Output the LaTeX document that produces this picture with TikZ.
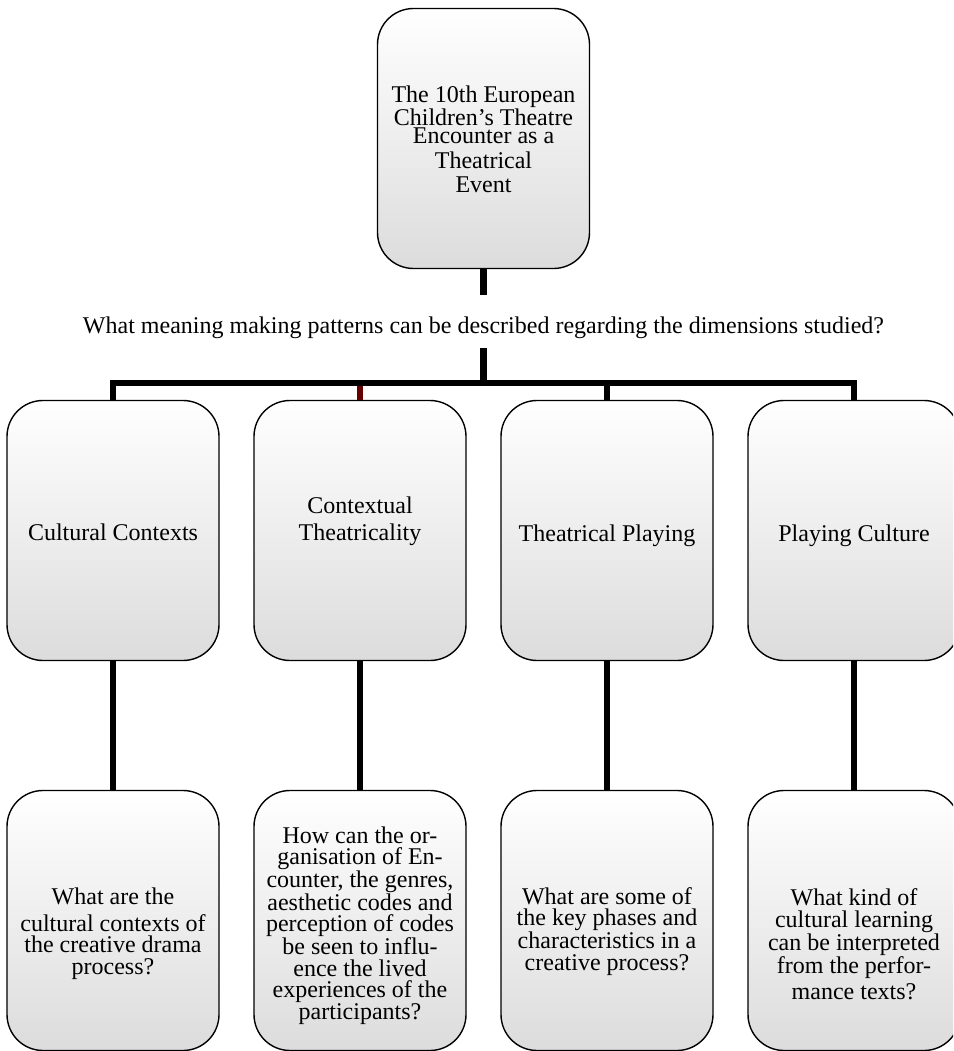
\documentclass[tikz,border=0pt]{standalone}
\usepackage{fontspec}
\setmainfont{Liberation Serif}
\usetikzlibrary{calc}
\definecolor{cardgray}{RGB}{220,220,220}
\definecolor{stubred}{RGB}{100,0,0}
\begin{document}
\begin{tikzpicture}[x=1pt,y=-1pt,
  txt/.style={font=\fontsize{24}{21.5}\selectfont, align=center, inner sep=0pt},
  card/.style={draw=black, line width=1.4pt, rounded corners=36pt,
    minimum width=212pt, minimum height=260pt, inner sep=0pt,
    top color=white, bottom color=cardgray},
  link/.style={line width=6.5pt, draw=black},
]
\useasboundingbox (0,0) rectangle (953,1051);
\clip (0,0) rectangle (953,1051);

% boxes
\node[card] (top) at (483.5,138.5) {};
\node[card] (c1) at (113,530.5) {};
\node[card] (c2) at (360,530.5) {};
\node[card] (c3) at (607,530.5) {};
\node[card] (c4) at (854,530.5) {};
\node[card] (d1) at (113,920.5) {};
\node[card] (d2) at (360,920.5) {};
\node[card] (d3) at (607,920.5) {};
\node[card] (d4) at (854,920.5) {};

% box texts
\node[txt, font=\fontsize{24}{20}\selectfont] (ttop) at ($(top)+(0,1)$)
  {The 10th European\\Children’s Theatre\\[-2pt]Encounter as a\\[5pt]Theatrical\\[4pt]Event};
\node[txt] (tc1) at ($(c1)+(0,2)$) {Cultural Contexts};
\node[txt] (tc2) at ($(c2)+(0,-9)$) {Contextual\\[5pt]Theatricality};
\node[txt] (tc3) at ($(c3)+(0,5)$) {Theatrical Playing};
\node[txt] (tc4) at ($(c4)+(0,5)$) {Playing Culture};
\node[txt] (td1) at ($(d1)+(0,13)$) {What are the\\[5pt]cultural contexts of\\the creative drama\\process?};
\node[txt] (td2) at ($(d2)+(0,5)$) {How can the or-\\ganisation of En-\\counter, the genres,\\aesthetic codes and\\perception of codes\\be seen to influ-\\ence the lived\\experiences of the\\participants?};
\node[txt] (td3) at ($(d3)+(0,11)$) {What are some of\\the key phases and\\characteristics in a\\creative process?};
\node[txt] (td4) at ($(d4)+(0,24)$) {What kind of\\cultural learning\\can be interpreted\\from the perfor-\\[5pt]mance texts?};

% research question
\node[txt, anchor=base, text height=38pt, text depth=15pt] (q) at (483.5,333)
  {What meaning making patterns can be described regarding the dimensions studied?};

% connectors
\coordinate (bus) at (483.5,383);
\draw[link] (top.south) -- (q.north);
\draw[link] (q.south) -- (bus);
\draw[link] (bus) -| (c1.north);
\draw[link] (bus) -| (c2.north);
\draw[link] (bus) -| (c3.north);
\draw[link] (bus) -| (c4.north);
\draw[line width=6.5pt, stubred] ($(c2.north |- bus)+(0,3.25)$) -- (c2.north);
\foreach \i in {1,2,3,4}{
  \draw[link] (c\i.south) -- (d\i.north);
}
\end{tikzpicture}
\end{document}
